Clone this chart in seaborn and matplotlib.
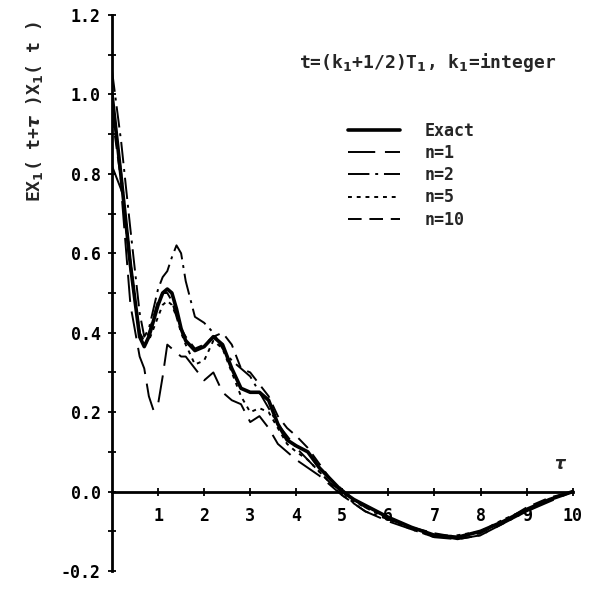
import matplotlib
matplotlib.use("Agg")
import matplotlib.pyplot as plt
import seaborn as sns
import numpy as np
from matplotlib.ticker import MultipleLocator, FixedLocator

# ---------------- data ----------------
tau = [0, 0.2, 0.4, 0.6, 0.7, 0.8, 0.9, 1.0, 1.1, 1.2, 1.3, 1.4, 1.5, 1.6, 1.8,
       2.0, 2.2, 2.4, 2.6, 2.8, 3.0, 3.2, 3.4, 3.6, 3.8, 4.0, 4.25, 4.5, 4.75,
       5.0, 5.25, 5.5, 6.0, 6.5, 7.0, 7.5, 8.0, 8.5, 9.0, 9.5, 10.0]

exact = [1.00, 0.79, 0.57, 0.39, 0.365, 0.39, 0.43, 0.47, 0.50, 0.51, 0.50, 0.46, 0.41, 0.38, 0.355,
         0.365, 0.39, 0.37, 0.31, 0.26, 0.25, 0.25, 0.23, 0.17, 0.13, 0.115, 0.10, 0.06, 0.03,
         0.00, -0.02, -0.035, -0.065, -0.09, -0.11, -0.115, -0.10, -0.075, -0.045, -0.02, 0.0]

n1 = [0.82, 0.76, 0.47, 0.34, 0.31, 0.24, 0.205, 0.22, 0.29, 0.37, 0.36, 0.35, 0.34, 0.34, 0.31,
      0.28, 0.30, 0.25, 0.23, 0.22, 0.175, 0.19, 0.16, 0.12, 0.10, 0.08, 0.06, 0.04, 0.015,
      -0.01, -0.03, -0.05, -0.075, -0.095, -0.115, -0.12, -0.11, -0.08, -0.05, -0.025, 0.0]

n2 = [1.06, 0.88, 0.66, 0.45, 0.39, 0.41, 0.46, 0.51, 0.54, 0.555, 0.59, 0.62, 0.60, 0.53, 0.44,
      0.425, 0.40, 0.36, 0.33, 0.31, 0.29, 0.25, 0.21, 0.17, 0.14, 0.11, 0.08, 0.05, 0.02,
      0.00, -0.03, -0.05, -0.07, -0.09, -0.11, -0.12, -0.11, -0.08, -0.05, -0.02, 0.0]

n5 = [0.98, 0.80, 0.58, 0.40, 0.37, 0.38, 0.41, 0.44, 0.47, 0.48, 0.47, 0.44, 0.40, 0.37, 0.32,
      0.33, 0.38, 0.36, 0.30, 0.24, 0.20, 0.21, 0.20, 0.16, 0.12, 0.10, 0.08, 0.05, 0.02,
      -0.01, -0.025, -0.04, -0.07, -0.095, -0.115, -0.11, -0.10, -0.07, -0.045, -0.02, 0.0]

n10 = [0.95, 0.78, 0.56, 0.40, 0.38, 0.40, 0.44, 0.48, 0.50, 0.50, 0.48, 0.44, 0.41, 0.39, 0.36,
       0.37, 0.39, 0.40, 0.37, 0.31, 0.30, 0.27, 0.24, 0.19, 0.16, 0.14, 0.11, 0.07, 0.03,
       0.005, -0.02, -0.04, -0.065, -0.09, -0.105, -0.115, -0.105, -0.075, -0.04, -0.015, 0.0]

labels = ["Exact", "n=1", "n=2", "n=5", "n=10"]
xticks = [1, 2, 3, 4, 5, 6, 7, 8, 9, 10]
yticks = [-0.2, 0.0, 0.2, 0.4, 0.6, 0.8, 1.0, 1.2]

# ---------------- plot ----------------
sns.set_theme(style="white")
plt.rcParams["font.family"] = ["DejaVu Sans Mono", "DejaVu Sans"]
plt.rcParams["font.weight"] = "bold"

fig = plt.figure(figsize=(5.97, 5.93), dpi=100)
ax = fig.add_axes([112 / 597, 22 / 593, 463 / 597, 556 / 593])

series = [exact, n1, n2, n5, n10]
styles = [
    dict(linewidth=2.6, linestyle="-"),
    dict(linewidth=1.4, linestyle=(0, (14, 5))),
    dict(linewidth=1.4, linestyle=(0, (11, 3, 1.5, 3))),
    dict(linewidth=1.4, linestyle=(0, (2, 2.5))),
    dict(linewidth=1.4, linestyle=(0, (7, 4))),
]
for y, lab, st in zip(series, labels, styles):
    sns.lineplot(x=tau, y=y, ax=ax, color="black", label=lab, **st)

ax.set_xlim(0, 10.05)
ax.set_ylim(-0.2, 1.2)

for s in ["top", "right"]:
    ax.spines[s].set_visible(False)
ax.spines["bottom"].set_position(("data", 0))
ax.spines["bottom"].set_bounds(0, 10)
ax.spines["left"].set_bounds(-0.2, 1.2)
ax.spines["bottom"].set_linewidth(2.0)
ax.spines["left"].set_linewidth(2.0)
ax.spines["bottom"].set_color("black")
ax.spines["left"].set_color("black")

ax.xaxis.set_major_locator(FixedLocator(xticks))
ax.set_xticklabels([str(v) for v in xticks])
ax.yaxis.set_major_locator(FixedLocator(yticks))
ax.set_yticklabels([f"{v:.1f}" for v in yticks])
ax.yaxis.set_minor_locator(MultipleLocator(0.1))
ax.tick_params(axis="both", which="both", direction="inout", length=6, width=1.3,
               colors="black", labelsize=12, bottom=True, left=True)
ax.tick_params(axis="x", which="major", pad=8)
ax.tick_params(axis="y", which="major", pad=5)
for lbl in ax.get_xticklabels() + ax.get_yticklabels():
    lbl.set_fontweight("bold")

ax.set_xlabel("")
ax.set_ylabel("")
fig.text(35 / 597, 1 - 112 / 593, r"EX$_1$( t+$\tau$ )X$_1$( t )", rotation=90,
         ha="center", va="center", fontsize=13, fontweight="bold")
fig.text(428 / 597, 1 - 62 / 593, r"t=(k$_1$+1/2)T$_1$, k$_1$=integer",
         ha="center", va="center", fontsize=13, fontweight="bold")
ax.text(9.74, 0.07, r"$\tau$", ha="center", va="center", fontsize=12)

leg = ax.legend(loc="upper left", bbox_to_anchor=((348 - 112) / 463, (571 - 122) / 556),
                frameon=False, fontsize=12, handlelength=3.1, handletextpad=1.5,
                labelspacing=0.25, borderpad=0, borderaxespad=0)
for t in leg.get_texts():
    t.set_fontweight("bold")

fig.savefig("out.png", dpi=100)
